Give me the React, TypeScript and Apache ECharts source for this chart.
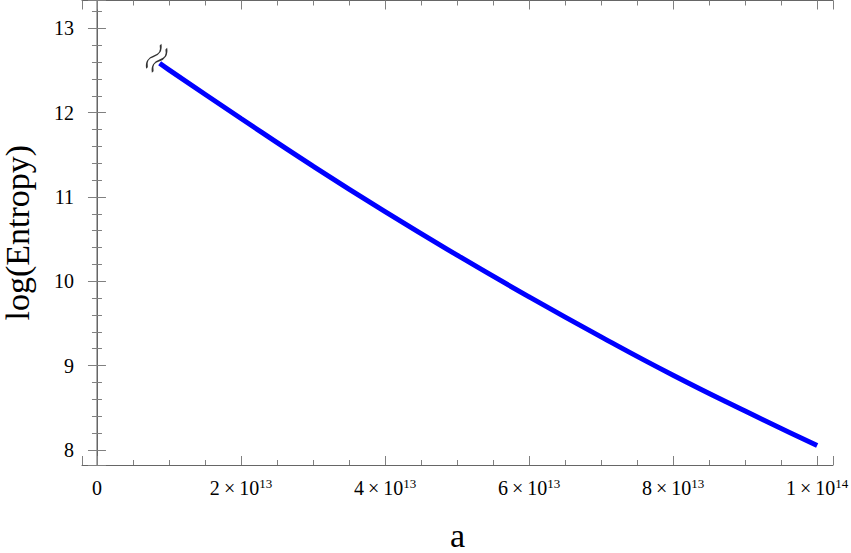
import React, { useEffect, useRef } from "react";
import * as echarts from "echarts";

// a values (x) and log(Entropy) values (y)
const aValues = [0.87e13, 1e13, 2e13, 3e13, 4e13, 5e13, 6e13, 7e13, 8e13, 9e13, 1e14];
const entropyValues = [12.585, 12.507, 11.93, 11.365, 10.825, 10.31, 9.815, 9.34, 8.885, 8.46, 8.05];

const xRange = [-0.208e13, 10.22e13];
const yRange = [7.82, 13.33];

const FONT = "Liberation Serif";

const breakPath =
  "path://M0,4 C2,0 4,0 6,3 C8,6 10,6 12,2 M0,10 C2,6 4,6 6,9 C8,12 10,12 12,8";

function xLabel(v: number): string {
  if (Math.abs(v) < 1) return "{m|0}";
  const exp = Math.floor(Math.log10(v) + 1e-9);
  const m = Math.round(v / Math.pow(10, exp));
  return `{m|${m}\u2009×\u200910}{s|${exp}}`;
}

export default function App() {
  const ref = useRef<HTMLDivElement>(null);
  useEffect(() => {
    if (!ref.current) return;
    const chart = echarts.init(ref.current, null, { renderer: "svg" });
    const frameColor = "#666";
    const tickColor = "#808080";
    const baseX = {
      type: "value" as const,
      min: xRange[0],
      max: xRange[1],
      splitLine: { show: false },
      axisLine: { show: true, lineStyle: { color: frameColor, width: 1 } },
      axisTick: { show: true, inside: true, length: 9, lineStyle: { color: tickColor } },
      minorTick: { show: true, splitNumber: 4, length: 5, lineStyle: { color: tickColor } },
    };
    const baseY = {
      type: "value" as const,
      min: yRange[0],
      max: yRange[1],
      splitLine: { show: false },
      axisLine: { show: true, lineStyle: { color: frameColor, width: 1 } },
      axisTick: { show: true, inside: true, length: 9, lineStyle: { color: tickColor } },
      minorTick: { show: true, splitNumber: 5, length: 5, lineStyle: { color: tickColor } },
    };
    const points = aValues.map((a, i) => [a, entropyValues[i]]);
    chart.setOption({
      animation: false,
      backgroundColor: "#fff",
      textStyle: { fontFamily: FONT, color: "#000" },
      grid: {
        left: 82,
        right: 18,
        top: 0.5,
        bottom: 88,
        containLabel: false,
        outerBoundsMode: "none",
      },
      xAxis: [
        {
          ...baseX,
          position: "bottom",
          name: "a",
          nameLocation: "middle",
          nameGap: 55,
          nameTextStyle: { fontFamily: FONT, fontSize: 34, color: "#000", lineHeight: 30 },
          axisLabel: {
            show: true,
            margin: 12,
            showMinLabel: false,
            showMaxLabel: false,
            fontFamily: FONT,
            fontSize: 20,
            color: "#000",
            formatter: xLabel,
            rich: {
              m: { fontFamily: FONT, fontSize: 20, color: "#000", lineHeight: 22 },
              s: { fontFamily: FONT, fontSize: 13, color: "#000", lineHeight: 13, verticalAlign: "top" },
            },
          },
        },
        {
          ...baseX,
          position: "top",
          axisLabel: { show: false },
        },
      ],
      yAxis: [
        {
          ...baseY,
          position: "left",
          axisLine: { show: true, lineStyle: { color: "#b0b0b0", width: 2 } },
          name: "log(Entropy)",
          nameLocation: "middle",
          nameGap: 48,
          nameTextStyle: { fontFamily: FONT, fontSize: 34, color: "#000" },
          axisLabel: {
            show: true,
            margin: 8,
            showMinLabel: false,
            showMaxLabel: false,
            fontFamily: FONT,
            fontSize: 20,
            color: "#000",
          },
        },
        {
          ...baseY,
          position: "right",
          axisLabel: { show: false },
        },
      ],
      series: [
        {
          type: "line",
          data: points,
          smooth: true,
          showSymbol: false,
          lineStyle: { color: "#0000ff", width: 5, cap: "butt" },
          z: 3,
        },
        {
          type: "scatter",
          data: [points[0]],
          symbol: breakPath,
          symbolSize: [27, 12],
          symbolRotate: 55,
          symbolOffset: [-3, -5],
          itemStyle: { color: "rgba(0,0,0,0)", borderColor: "#000", borderWidth: 1.7 },
          z: 4,
        },
      ],
    });
    return () => chart.dispose();
  }, []);
  return (
    <div
      ref={ref}
      style={{ position: "fixed", left: 0, top: 0, width: 851, height: 553 }}
    />
  );
}
